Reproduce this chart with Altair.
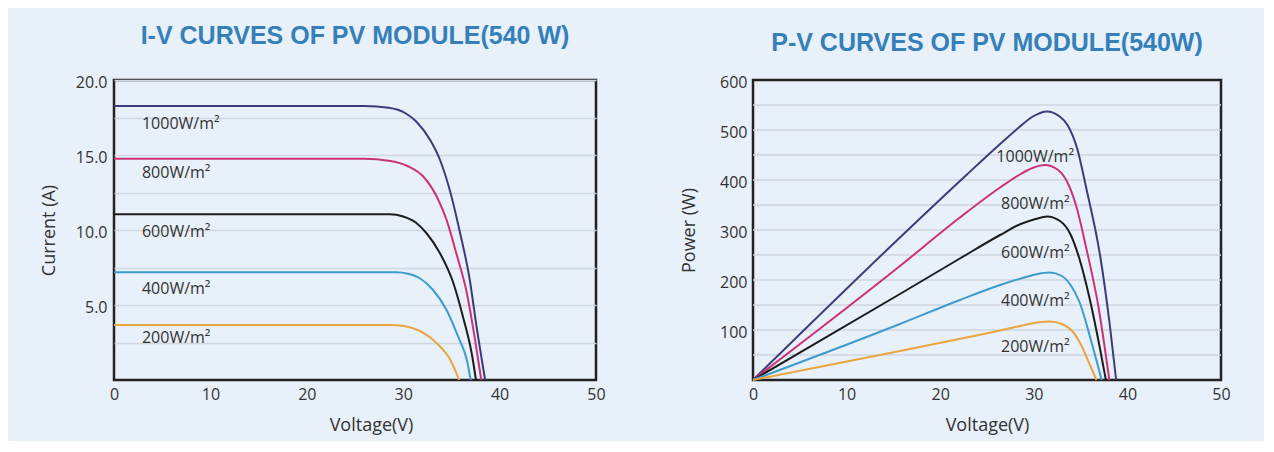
import altair as alt
import pandas as pd

# ---------------- data ----------------
irradiance = ["1000W/m²", "800W/m²", "600W/m²", "400W/m²", "200W/m²"]
line_colors = ["#3c3c7a", "#cc3377", "#1c1c1c", "#3d9ccb", "#e9a640"]

# I-V curves (voltage V, current A)
iv_v_1000 = [0, 26.0, 28.5, 30.2, 31.4, 32.8, 33.8, 34.9, 35.9, 36.9, 37.6, 38.5]
iv_i_1000 = [18.27, 18.27, 18.15, 17.8, 17.2, 16.0, 14.7, 12.5, 9.8, 6.7, 3.6, 0]
iv_v_800 = [0, 26.0, 28.5, 30.5, 32.1, 33.5, 34.5, 35.5, 36.6, 37.4, 38.1]
iv_i_800 = [14.75, 14.75, 14.62, 14.25, 13.55, 12.2, 10.67, 8.47, 5.8, 2.89, 0]
iv_v_600 = [0, 28.6, 30.0, 31.3, 32.4, 33.8, 35.2, 36.2, 37.1, 37.55]
iv_i_600 = [11.05, 11.05, 10.9, 10.5, 9.8, 8.47, 6.47, 4.22, 1.8, 0]
iv_v_400 = [0, 29.3, 30.5, 31.8, 33.1, 34.5, 35.7, 36.6, 37.0]
iv_i_400 = [7.18, 7.18, 7.08, 6.75, 6.0, 4.67, 2.89, 1.33, 0]
iv_v_200 = [0, 28.6, 30.2, 31.8, 33.5, 34.9, 35.8]
iv_i_200 = [3.67, 3.67, 3.58, 3.25, 2.44, 1.33, 0]

# P-V curves (voltage V, power W)
pv_v_1000 = [0, 15.7, 22.8, 26.4, 28.4, 29.9, 31.4, 32.7, 33.6, 34.6, 35.65, 37.1, 38.1, 38.8]
pv_p_1000 = [0, 285, 410, 472, 505, 527, 537, 528, 510, 465, 380, 247, 113, 0]
pv_v_800 = [0, 15.7, 22.1, 26.4, 28.6, 30.0, 31.2, 32.6, 33.6, 34.5, 35.65, 36.9, 38.07]
pv_p_800 = [0, 228, 325, 385, 412, 425, 430, 420, 395, 350, 260, 147, 0]
pv_v_600 = [0, 15.7, 22.1, 26.4, 28.6, 30.2, 31.4, 32.8, 33.9, 34.8, 36.0, 37.1, 37.7]
pv_p_600 = [0, 172, 243, 290, 312, 322, 327, 318, 292, 247, 160, 60, 0]
pv_v_400 = [0, 15.7, 22.1, 26.4, 28.8, 30.4, 31.7, 33.0, 34.0, 34.9, 36.2, 37.25]
pv_p_400 = [0, 112, 160, 190, 204, 212, 215, 208, 188, 155, 73, 0]
pv_v_200 = [0, 15.7, 22.8, 26.4, 28.8, 30.4, 31.7, 33.0, 34.1, 35.0, 36.0, 36.7]
pv_p_200 = [0, 58, 85, 99, 109, 115, 117, 112, 98, 72, 30, 0]

# label anchor points (data units)
iv_label_v = [2.9, 2.9, 2.9, 2.9, 2.9]
iv_label_i = [17.07, 13.8, 9.9, 6.1, 2.8]
pv_label_v = [26.0, 26.5, 26.5, 26.5, 26.5]
pv_label_p = [447, 353, 255, 159, 67]

iv_y_grid = [2.5, 5, 7.5, 10, 12.5, 15, 17.5, 20]
pv_y_grid = [50, 100, 150, 200, 250, 300, 350, 400, 450, 500, 550]
pv_y_labels = [100, 200, 300, 400, 500, 600]
x_ticks = [0, 10, 20, 30, 40, 50]

# ---------------- tables ----------------
iv_sets = [(iv_v_1000, iv_i_1000), (iv_v_800, iv_i_800), (iv_v_600, iv_i_600),
           (iv_v_400, iv_i_400), (iv_v_200, iv_i_200)]
pv_sets = [(pv_v_1000, pv_p_1000), (pv_v_800, pv_p_800), (pv_v_600, pv_p_600),
           (pv_v_400, pv_p_400), (pv_v_200, pv_p_200)]

iv_rows, pv_rows = [], []
for name, (vs, ys) in zip(irradiance, iv_sets):
    for k, (v, y) in enumerate(zip(vs, ys)):
        iv_rows.append({"irr": name, "V": v, "I": y, "k": k})
for name, (vs, ys) in zip(irradiance, pv_sets):
    for k, (v, y) in enumerate(zip(vs, ys)):
        pv_rows.append({"irr": name, "V": v, "P": y, "k": k})
iv_df = pd.DataFrame(iv_rows)
pv_df = pd.DataFrame(pv_rows)
iv_lab = pd.DataFrame({"irr": irradiance, "V": iv_label_v, "I": iv_label_i})
pv_lab = pd.DataFrame({"irr": irradiance, "V": pv_label_v, "P": pv_label_p})
pv_grid_df = pd.DataFrame({"P": pv_y_grid})

FONT = "Open Sans"
TXT = "#333333"
GRID = "#cfd6df"
TITLE_COLOR = "#3580b8"

color = alt.Color("irr:N", scale=alt.Scale(domain=irradiance, range=line_colors), legend=None)


def x_axis(title_x):
    return alt.Axis(values=x_ticks, grid=False, ticks=False, domain=False,
                    labelFlush=False,
                    labelFont=FONT, labelFontSize=16, labelColor=TXT, labelPadding=6,
                    title="Voltage(V)", titleFont=FONT, titleFontSize=18,
                    titleFontWeight="normal", titleColor=TXT, titlePadding=14,
                    titleX=title_x)


# ---------------- left: I-V ----------------
iv_x = alt.X("V:Q", scale=alt.Scale(domain=[0, 50], nice=False), axis=x_axis(257))
iv_y = alt.Y("I:Q", scale=alt.Scale(domain=[0, 20], nice=False),
             axis=alt.Axis(values=iv_y_grid, grid=True, gridColor=GRID, gridWidth=1.5,
                           ticks=False, domain=False, labelOverlap=False,
                           labelExpr="datum.value % 5 == 0 ? format(datum.value, '.1f') : ''",
                           labelFont=FONT, labelFontSize=16, labelColor=TXT,
                           labelPadding=7, labelOffset=2,
                           title="Current (A)", titleFont=FONT, titleFontSize=18,
                           titleFontWeight="normal", titleColor=TXT, titlePadding=17))

iv_lines = alt.Chart(iv_df).mark_line(strokeWidth=2, interpolate="monotone").encode(
    x=iv_x, y=iv_y, color=color, order="k:Q")
iv_text = alt.Chart(iv_lab).mark_text(align="left", baseline="middle", font=FONT,
                                      fontSize=16, color=TXT).encode(
    x="V:Q", y="I:Q", text="irr:N")

left = alt.layer(iv_lines, iv_text).properties(
    width=482, height=300,
    title=alt.TitleParams("I-V CURVES OF PV MODULE(540 W)", font="Liberation Sans",
                          fontWeight="bold", fontSize=25, color=TITLE_COLOR,
                          anchor="middle", offset=25))

# ---------------- right: P-V ----------------
pv_x = alt.X("V:Q", scale=alt.Scale(domain=[0, 50], nice=False), axis=x_axis(234))
pv_y = alt.Y("P:Q", scale=alt.Scale(domain=[0, 600], nice=False),
             axis=alt.Axis(values=pv_y_labels, grid=False,
                           ticks=False, domain=False, labelOverlap=False,
                           format="d",
                           labelFont=FONT, labelFontSize=16, labelColor=TXT,
                           labelPadding=6, labelOffset=2,
                           title="Power (W)", titleFont=FONT, titleFontSize=18,
                           titleFontWeight="normal", titleColor=TXT, titlePadding=21))

pv_grid = alt.Chart(pv_grid_df).mark_rule(color=GRID, strokeWidth=1.5).encode(y=pv_y)
pv_lines = alt.Chart(pv_df).mark_line(strokeWidth=2, interpolate="monotone").encode(
    x=pv_x, y="P:Q", color=color, order="k:Q")
pv_text = alt.Chart(pv_lab).mark_text(align="left", baseline="middle", font=FONT,
                                      fontSize=16, color=TXT).encode(
    x="V:Q", y="P:Q", text="irr:N")

right = alt.layer(pv_grid, pv_lines, pv_text).properties(
    width=468, height=300,
    title=alt.TitleParams("P-V CURVES OF PV MODULE(540W)", font="Liberation Sans",
                          fontWeight="bold", fontSize=25, color=TITLE_COLOR,
                          anchor="middle", offset=25, dy=7))

chart = alt.hconcat(left, right, spacing=72).properties(
    padding={"left": 31, "top": 14, "right": 32, "bottom": 5}
).configure(background="#e8f0fa").configure_view(stroke="#222222", strokeWidth=2.5)

chart.save("out.html", embed_options={"renderer": "svg", "actions": False})
